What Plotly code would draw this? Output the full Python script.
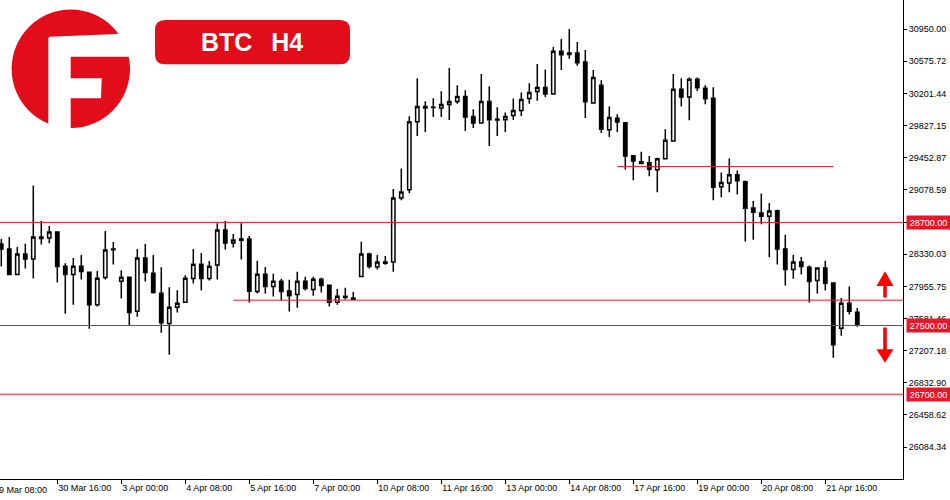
import plotly.graph_objects as go

# ---------------- data (BTC H4 candles) ----------------
opens = [28448, 28390, 28094, 28331, 28273, 28530, 28518, 28588, 28191, 28094,
         28191, 28121, 27743, 28059, 28382, 28016, 28063, 27666, 28285, 28109,
         27876, 27522, 27712, 27771, 28047, 28214, 28047, 28203, 28612, 28460,
         28506, 28506, 27895, 28098, 27954, 28016, 27903, 27860, 28016, 27919,
         28039, 27969, 27771, 27841, 27821, 28070, 28331, 28180, 28238, 28238,
         28985, 29079, 29873, 30048, 30040, 30033, 30072, 30107, 30165, 29932,
         29857, 30107, 29900, 29896, 29943, 30002, 30142, 30223, 30270, 30196,
         30691, 30671, 30671, 30566, 30091, 30297, 29779, 29912, 29861, 29476,
         29406, 29394, 29312, 29441, 29647, 30251, 30161, 30367, 30262, 30146,
         29114, 29160, 29254, 29172, 28868, 28810, 28771, 28837, 28390, 28152,
         28238, 28179, 28024, 28168, 27996, 27467, 27759, 27654]
highs = [28506, 28530, 28413, 28452, 29129, 28717, 28658, 28595, 28226, 28285,
         28320, 28125, 28133, 28600, 28471, 28144, 28063, 28390, 28448, 28320,
         28179, 27946, 27911, 28086, 28390, 28343, 28250, 28689, 28717, 28565,
         28689, 28541, 28253, 28180, 28102, 28043, 28032, 28125, 28067, 28067,
         28055, 27975, 27926, 27938, 27891, 28475, 28347, 28320, 28308, 29090,
         29328, 29935, 30379, 30111, 30146, 30227, 30496, 30297, 30239, 30017,
         30426, 30286, 30040, 29978, 30142, 30212, 30321, 30543, 30480, 30741,
         30835, 30951, 30800, 30706, 30473, 30356, 30048, 29959, 29865, 29480,
         29523, 29472, 29453, 29783, 30426, 30379, 30387, 30387, 30297, 30274,
         29281, 29445, 29305, 29188, 28950, 29036, 28927, 28847, 28557, 28323,
         28296, 28199, 28176, 28253, 28004, 27821, 27954, 27704]
lows = [28187, 28094, 28094, 28164, 28047, 28444, 28456, 28000, 27638, 27743,
        28035, 27463, 27720, 28035, 28211, 27813, 27502, 27603, 28012, 27872,
        27416, 27159, 27650, 27771, 27989, 27907, 28024, 28035, 28386, 28409,
        28269, 27767, 27872, 27872, 27837, 27794, 27662, 27708, 27907, 27845,
        27884, 27720, 27743, 27802, 27802, 28070, 28164, 28152, 28207, 28125,
        28958, 29040, 29706, 29752, 29928, 29928, 29893, 30080, 29764, 29799,
        29850, 29589, 29706, 29752, 29893, 29939, 30080, 30115, 30161, 30196,
        30473, 30605, 30523, 29916, 30080, 29741, 29694, 29752, 29316, 29192,
        29379, 29238, 29052, 29441, 29647, 30048, 29889, 30231, 30075, 28958,
        28993, 29052, 29024, 28479, 28499, 28680, 28294, 28211, 27965, 28043,
        28094, 27767, 27872, 27907, 27124, 27381, 27627, 27486]
closes = [28390, 28094, 28331, 28273, 28530, 28514, 28588, 28187, 28094, 28191,
          28129, 27743, 28051, 28378, 28390, 28063, 27650, 28285, 28117, 27884,
          27533, 27712, 27759, 28051, 28214, 28047, 28191, 28612, 28460, 28495,
          28491, 27899, 28098, 27954, 28016, 27895, 27845, 28016, 27930, 28039,
          27965, 27771, 27841, 27825, 27806, 28331, 28187, 28238, 28226, 28985,
          29055, 29873, 30048, 30033, 30037, 30072, 30107, 30165, 29928, 29857,
          30107, 29896, 29893, 29932, 30002, 30130, 30212, 30270, 30196, 30691,
          30652, 30655, 30558, 30103, 30387, 29785, 29920, 29869, 29472, 29414,
          29387, 29320, 29441, 29655, 30251, 30161, 30367, 30266, 30138, 29110,
          29164, 29254, 29184, 28865, 28818, 28771, 28834, 28390, 28152, 28238,
          28187, 28012, 28168, 27993, 27276, 27759, 27666, 27506]
bar_index = list(range(1, len(opens) + 1))

# time-axis labels (one every 8 bars)
tick_bars = [8, 16, 24, 32, 40, 48, 56, 64, 72, 80, 88, 96, 104]
tick_labels = ["30 Mar 16:00", "3 Apr 00:00", "4 Apr 08:00", "5 Apr 16:00",
               "7 Apr 00:00", "10 Apr 08:00", "11 Apr 16:00", "13 Apr 00:00",
               "14 Apr 08:00", "17 Apr 16:00", "19 Apr 00:00", "20 Apr 08:00",
               "21 Apr 16:00"]
first_tick_bar = 0
first_tick_label = "29 Mar 08:00"

price_ticks = [30950.00, 30575.72, 30201.44, 29827.15, 29452.87, 29078.59,
               28704.31, 28330.03, 27955.75, 27581.46, 27207.18, 26832.90,
               26458.62, 26084.34]

# horizontal levels
full_levels = [28700.00, 27500.00, 26700.00]
segment_levels = [27795, 29350]
segment_start_bar = [30, 78]
segment_end_bar = [None, 105]     # None = to the price axis

title_text = "BTC\u00a0\u00a0\u2009H4"

# ---------------- layout geometry ----------------
W, H = 950, 500
ML, MR, MT, MB = 0, 47, 0, 21
PW, PH = W - ML - MR, H - MT - MB
X_RANGE = [0.8375, 113.7125]
Y_RANGE = [25713.3, 31288.8]

RED = "#e8182a"
LOGO_RED = "#e20c1a"
FONT = "Liberation Sans"


def px(x, y):
    return (x - ML) / PW, 1 - (y - MT) / PH


def bar_to_px(b):
    return (b - X_RANGE[0]) / (X_RANGE[1] - X_RANGE[0]) * PW + ML


def path_px(points):
    s = ""
    for i, (x, y) in enumerate(points):
        u, v = px(x, y)
        s += ("M" if i == 0 else "L") + f"{u:.5f},{v:.5f} "
    return s + "Z"


fig = go.Figure()
fig.add_trace(go.Candlestick(
    x=bar_index, open=opens, high=highs, low=lows, close=closes,
    increasing=dict(line=dict(color="black", width=1.5), fillcolor="white"),
    decreasing=dict(line=dict(color="black", width=1.5), fillcolor="black"),
    whiskerwidth=0, hoverinfo="skip", showlegend=False,
))

shapes = []
for lv in full_levels:
    shapes.append(dict(type="line", xref="paper", yref="y", x0=0, x1=1, y0=lv, y1=lv,
                       line=dict(color=RED, width=1), layer="above"))
for lv, s, e in zip(segment_levels, segment_start_bar, segment_end_bar):
    x1 = X_RANGE[1] if e is None else e
    shapes.append(dict(type="line", xref="x", yref="y", x0=s, x1=x1, y0=lv, y1=lv,
                       line=dict(color=RED, width=1), layer="above"))

# logo
cx, cy, r = 70.8, 68.8, 59.2
u0, v0 = px(cx - r, cy + r)
u1, v1 = px(cx + r, cy - r)
shapes.append(dict(type="circle", xref="paper", yref="paper", x0=u0, x1=u1, y0=v0, y1=v1,
                   fillcolor=LOGO_RED, line=dict(width=0), layer="above"))
shapes.append(dict(type="path", xref="paper", yref="paper", layer="above",
                   path=path_px([(48.3, 38.0), (49.5, 36.7), (117.5, 34.0), (136, 33.0),
                                 (136, 56.7), (70.7, 56.7), (70.7, 135), (48.3, 135)]),
                   fillcolor="white", line=dict(width=0)))
shapes.append(dict(type="path", xref="paper", yref="paper", layer="above",
                   path=path_px([(69.5, 78.3), (101.7, 78.3), (101.0, 98.3), (69.5, 98.3)]),
                   fillcolor="white", line=dict(width=0)))

# title box (rounded)
bx0, by0, bx1, by1, rr = 155, 20, 350, 64.3, 10


def P(x, y):
    u, v = px(x, y)
    return f"{u:.5f},{v:.5f}"


box_path = (f"M{P(bx0+rr, by0)} L{P(bx1-rr, by0)} Q{P(bx1, by0)} {P(bx1, by0+rr)} "
            f"L{P(bx1, by1-rr)} Q{P(bx1, by1)} {P(bx1-rr, by1)} "
            f"L{P(bx0+rr, by1)} Q{P(bx0, by1)} {P(bx0, by1-rr)} "
            f"L{P(bx0, by0+rr)} Q{P(bx0, by0)} {P(bx0+rr, by0)} Z")
shapes.append(dict(type="path", xref="paper", yref="paper", layer="above", path=box_path,
                   fillcolor=LOGO_RED, line=dict(width=0)))

# arrows
shapes.append(dict(type="path", xref="paper", yref="paper", layer="above",
                   path=path_px([(885, 271.3), (893.5, 286), (886.8, 286), (886.8, 297.5),
                                 (883.2, 297.5), (883.2, 286), (876.5, 286)]),
                   fillcolor="#ff0000", line=dict(width=0)))
shapes.append(dict(type="path", xref="paper", yref="paper", layer="above",
                   path=path_px([(883.2, 327.5), (886.8, 327.5), (886.8, 349.3), (893.5, 349.3),
                                 (885, 362.7), (876.5, 349.3), (883.2, 349.3)]),
                   fillcolor="#ff0000", line=dict(width=0)))

annotations = []
tx, ty = px((bx0 + bx1) / 2, (by0 + by1) / 2)
annotations.append(dict(xref="paper", yref="paper", x=tx, y=ty, text=title_text,
                        showarrow=False, xanchor="center", yanchor="middle",
                        font=dict(family=FONT, size=25, color="white", weight="bold")))
for lv in full_levels:
    annotations.append(dict(xref="paper", yref="y", x=906 / PW, y=lv, text=f"{lv:.2f}",
                            showarrow=False, xanchor="left", yanchor="middle",
                            bgcolor=RED, borderpad=1, width=41, height=11,
                            font=dict(family=FONT, size=9, color="white")))
# first time label: its tick lies just left of the visible range, text clipped by the page edge
annotations.append(dict(xref="paper", yref="paper", x=bar_to_px(first_tick_bar) / PW, y=0,
                        text=first_tick_label, showarrow=False, xanchor="left", yanchor="top",
                        xshift=-1.5, yshift=-4,
                        font=dict(family=FONT, size=9, color="black")))

fig.update_layout(
    width=W, height=H, margin=dict(l=ML, r=MR, t=MT, b=MB),
    paper_bgcolor="white", plot_bgcolor="white",
    shapes=shapes, annotations=annotations, boxgap=0.4,
    xaxis=dict(range=X_RANGE, showgrid=False, zeroline=False, showline=True,
               linecolor="black", linewidth=1, ticks="outside", ticklen=4,
               tickcolor="black", tickvals=tick_bars, ticktext=tick_labels,
               ticklabelposition="outside right", rangeslider=dict(visible=False),
               tickfont=dict(family=FONT, size=9, color="black")),
    yaxis=dict(range=Y_RANGE, side="right", showgrid=False, zeroline=False,
               showline=True, linecolor="black", linewidth=1, ticks="outside",
               ticklen=3, tickcolor="black", tickvals=price_ticks,
               ticktext=[f"{v:.2f}" for v in price_ticks],
               tickfont=dict(family=FONT, size=9, color="black")),
)

fig.write_html("out.html", config={"displayModeBar": False},
               post_script="document.body.style.margin='0';")
